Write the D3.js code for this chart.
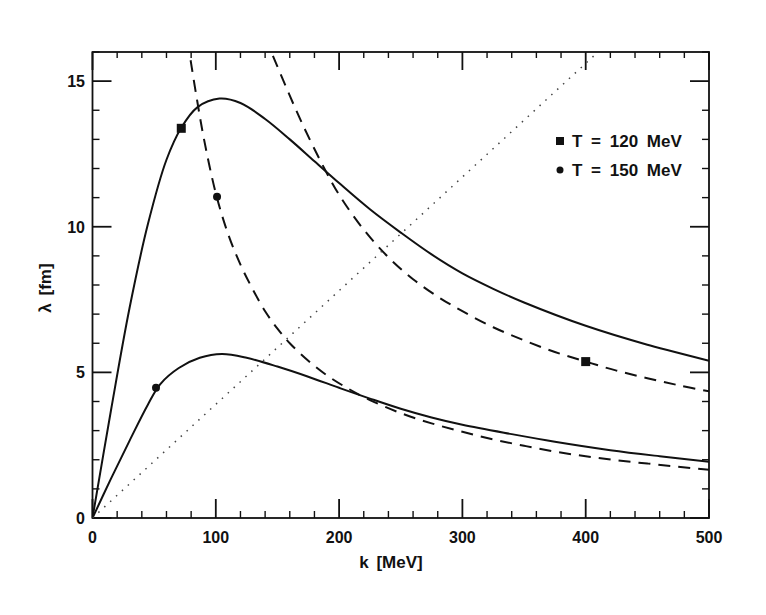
<!DOCTYPE html>
<html>
<head>
<meta charset="utf-8">
<script src="https://cdn.jsdelivr.net/npm/d3@7"></script>
<style>
  body { margin: 0; background: #fff; }
  text { font-family: "Liberation Sans", "DejaVu Sans", sans-serif; font-weight: bold; fill: #111; }
</style>
</head>
<body>
<svg id="chart" width="766" height="615"></svg>
<script>
// curves, k in MeV, lambda in fm
var solidHighK = [0, 15, 30, 45, 60, 72, 85, 103, 120, 140, 160, 180, 200, 225, 250, 275, 300, 325, 350, 400, 450, 500];
var solidHighL = [0, 3.7, 7.2, 10.1, 12.3, 13.4, 14.1, 14.4, 14.25, 13.7, 13.0, 12.25, 11.5, 10.6, 9.8, 9.05, 8.4, 7.87, 7.4, 6.6, 5.95, 5.4];

var solidLowK = [0, 15, 30, 45, 55, 70, 87, 105, 125, 150, 175, 200, 225, 250, 275, 300, 340, 375, 420, 460, 500];
var solidLowL = [0, 1.35, 2.65, 3.9, 4.6, 5.15, 5.5, 5.63, 5.5, 5.2, 4.85, 4.47, 4.1, 3.75, 3.45, 3.2, 2.88, 2.62, 2.33, 2.12, 1.93];

var dashHighK = [140, 150, 160, 170, 185, 200, 220, 240, 260, 280, 300, 325, 350, 375, 400, 425, 450, 475, 500];
var dashHighL = [16.5, 15.5, 14.5, 13.55, 12.25, 11.1, 9.9, 8.95, 8.2, 7.6, 7.1, 6.55, 6.1, 5.7, 5.37, 5.06, 4.8, 4.56, 4.35];

var dashLowK = [77, 80, 85, 90, 100, 110, 120, 130, 140, 150, 160, 175, 190, 205, 225, 250, 275, 300, 325, 350, 375, 400, 425, 450, 475, 500];
var dashLowL = [16.4, 15.6, 14.3, 13.1, 11.15, 9.75, 8.7, 7.85, 7.1, 6.5, 6.0, 5.4, 4.9, 4.5, 4.05, 3.6, 3.25, 2.96, 2.7, 2.48, 2.28, 2.12, 1.98, 1.87, 1.76, 1.66];

var dotK = [0, 410];
var dotL = [0, 16];

var squareK = [72, 400];
var squareL = [13.38, 5.37];
var circleK = [51.5, 101];
var circleL = [4.47, 11.03];

var xTicks = [0, 100, 200, 300, 400, 500];
var yTicks = [0, 5, 10, 15];
var legendLabels = ["T = 120 MeV", "T = 150 MeV"];

var svg = d3.select("#chart");
var x = d3.scaleLinear().domain([0, 500]).range([92.5, 709]);
var y = d3.scaleLinear().domain([0, 16]).range([518, 52]);

function pts(ks, ls) {
	return ks.map(function(k, i) { return [k, ls[i]]; });
}

svg.append("clipPath").attr("id", "plot-clip")
	.append("rect")
	.attr("x", x(0)).attr("y", y(16))
	.attr("width", x(500) - x(0)).attr("height", y(0) - y(16));

// ticks on all four sides, pointing inward
var minorX = d3.range(0, 501, 20);
var minorY = d3.range(0, 17, 1);
var g = svg.append("g");

minorX.forEach(function(k) {
	var big = k % 100 === 0;
	g.append("line").attr("x1", x(k)).attr("x2", x(k))
		.attr("y1", y(0)).attr("y2", y(0) - (big ? 19 : 7))
		.attr("stroke", "#111").attr("stroke-width", big ? 1.8 : 1.4);
	g.append("line").attr("x1", x(k)).attr("x2", x(k))
		.attr("y1", y(16)).attr("y2", y(16) + (big ? 18 : 6))
		.attr("stroke", "#111").attr("stroke-width", big ? 1.8 : 1.4);
});
minorY.forEach(function(v) {
	var big = v % 5 === 0;
	var len = big ? 19 : 7;
	g.append("line").attr("x1", x(0)).attr("x2", x(0) + len)
		.attr("y1", y(v)).attr("y2", y(v))
		.attr("stroke", "#111").attr("stroke-width", big ? 1.8 : 1.4);
	g.append("line").attr("x1", x(500)).attr("x2", x(500) - len)
		.attr("y1", y(v)).attr("y2", y(v))
		.attr("stroke", "#111").attr("stroke-width", big ? 1.8 : 1.4);
});

svg.append("rect")
	.attr("x", x(0)).attr("y", y(16))
	.attr("width", x(500) - x(0)).attr("height", y(0) - y(16))
	.attr("fill", "none").attr("stroke", "#111").attr("stroke-width", 1.8);

// tick labels
svg.selectAll(".xlab").data(xTicks).enter().append("text")
	.attr("x", function(d) { return x(d); })
	.attr("y", 543)
	.attr("text-anchor", "middle")
	.attr("font-size", 16)
	.text(function(d) { return d; });

svg.selectAll(".ylab").data(yTicks).enter().append("text")
	.attr("x", 85)
	.attr("y", function(d) { return y(d) + 6; })
	.attr("text-anchor", "end")
	.attr("font-size", 16)
	.text(function(d) { return d; });

svg.append("text")
	.attr("x", 391).attr("y", 568)
	.attr("text-anchor", "middle")
	.attr("font-size", 17)
	.attr("word-spacing", 3)
	.text("k [MeV]");

svg.append("text")
	.attr("transform", "translate(51,288) rotate(-90)")
	.attr("text-anchor", "middle")
	.attr("font-size", 17)
	.attr("word-spacing", 3)
	.text("λ [fm]");

// curves
var line = d3.line()
	.x(function(d) { return x(d[0]); })
	.y(function(d) { return y(d[1]); })
	.curve(d3.curveCatmullRom.alpha(0.5));

var plot = svg.append("g").attr("clip-path", "url(#plot-clip)");

plot.append("path").datum(pts(solidHighK, solidHighL))
	.attr("d", line).attr("fill", "none").attr("stroke", "#111").attr("stroke-width", 2);
plot.append("path").datum(pts(solidLowK, solidLowL))
	.attr("d", line).attr("fill", "none").attr("stroke", "#111").attr("stroke-width", 2);
plot.append("path").datum(pts(dashHighK, dashHighL))
	.attr("d", line).attr("fill", "none").attr("stroke", "#111").attr("stroke-width", 2)
	.attr("stroke-dasharray", "12,8");
plot.append("path").datum(pts(dashLowK, dashLowL))
	.attr("d", line).attr("fill", "none").attr("stroke", "#111").attr("stroke-width", 2)
	.attr("stroke-dasharray", "12,8");
plot.append("path").datum(pts(dotK, dotL))
	.attr("d", d3.line().x(function(d) { return x(d[0]); }).y(function(d) { return y(d[1]); }))
	.attr("fill", "none").attr("stroke", "#444").attr("stroke-width", 1.5)
	.attr("stroke-dasharray", "1.5,6.5");

// markers
svg.selectAll(".sq").data(pts(squareK, squareL)).enter().append("rect")
	.attr("x", function(d) { return x(d[0]) - 4.5; })
	.attr("y", function(d) { return y(d[1]) - 4.5; })
	.attr("width", 9).attr("height", 9)
	.attr("fill", "#111");
svg.selectAll(".ci").data(pts(circleK, circleL)).enter().append("circle")
	.attr("cx", function(d) { return x(d[0]); })
	.attr("cy", function(d) { return y(d[1]); })
	.attr("r", 4).attr("fill", "#111");

// legend
svg.append("rect").attr("x", 556).attr("y", 137).attr("width", 8).attr("height", 8).attr("fill", "#111");
svg.append("circle").attr("cx", 560).attr("cy", 170).attr("r", 3.5).attr("fill", "#111");
legendLabels.forEach(function(t, i) {
	svg.append("text")
		.attr("x", 572).attr("y", 147 + i * 29)
		.attr("font-size", 17)
		.attr("word-spacing", 4)
		.text(t);
});
</script>
</body>
</html>
